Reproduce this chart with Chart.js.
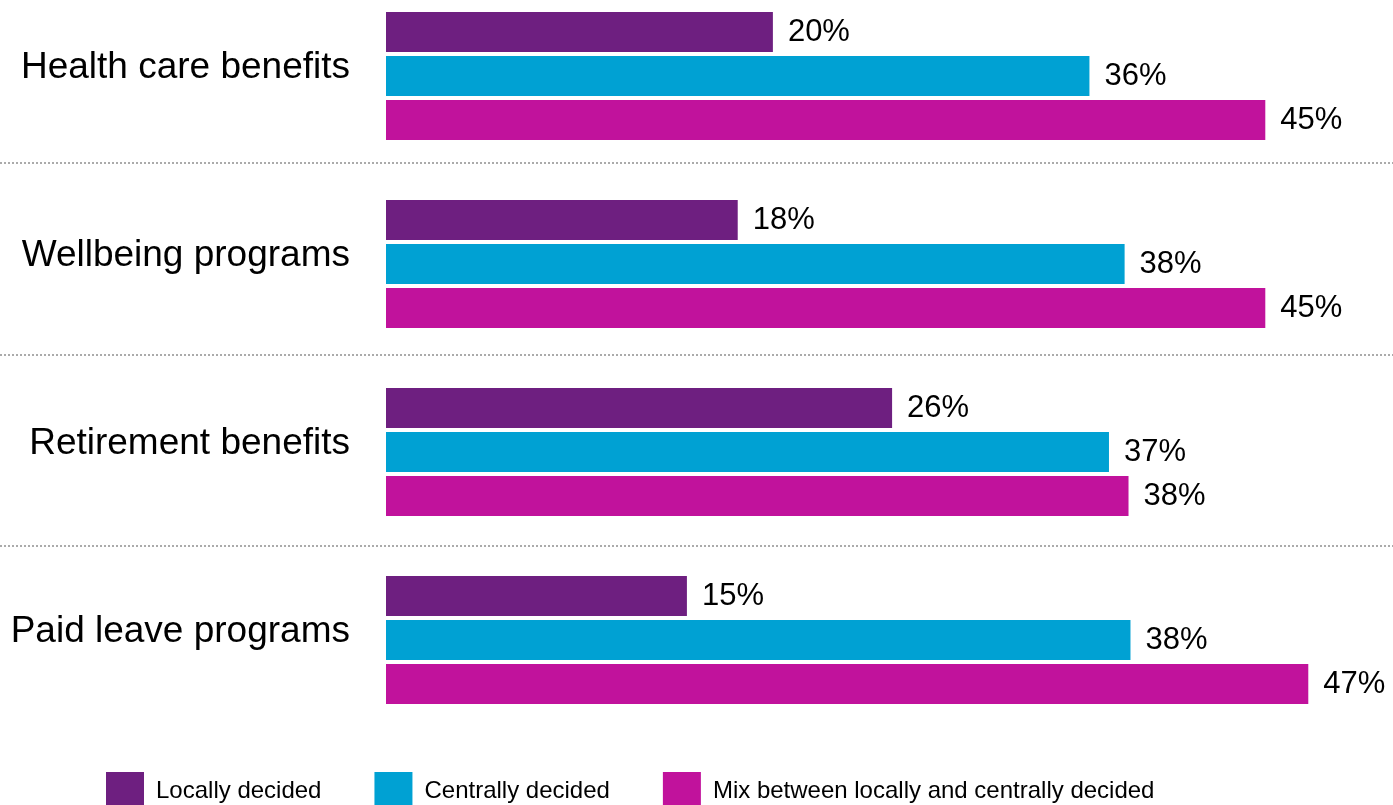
<!DOCTYPE html>
<html>
<head>
<meta charset="utf-8">
<script src="https://cdn.jsdelivr.net/npm/chart.js@4.4.1/dist/chart.umd.min.js"></script>
<style>
  html, body { margin: 0; padding: 0; background: #fff; overflow: hidden; }
  #wrap { position: relative; width: 1393px; height: 820px; }
</style>
</head>
<body>
<div id="wrap"><canvas id="grafico"></canvas></div>
<script>
const categorias = ["Health care benefits", "Wellbeing programs", "Retirement benefits", "Paid leave programs"];
const seriesNomes = ["Locally decided", "Centrally decided", "Mix between locally and centrally decided"];
const localmente = [19.8, 18.0, 25.9, 15.4];
const centralmente = [36.0, 37.8, 37.0, 38.1];
const misto = [45.0, 45.0, 38.0, 47.2];
const cores = ["#6E1F80", "#00A1D3", "#C1129C"];

const fonte = "'Liberation Sans', Arial, sans-serif";

// linhas pontilhadas entre as categorias
const separadores = {
  id: "separadores",
  afterDraw(chart) {
    const { ctx, scales: { y }, width } = chart;
    ctx.save();
    ctx.strokeStyle = "#ababab";
    ctx.lineWidth = 2;
    ctx.setLineDash([2, 2]);
    for (let i = 0; i < categorias.length - 1; i++) {
      const meio = Math.round((y.getPixelForTick(i) + y.getPixelForTick(i + 1)) / 2 - 7 + 3.5 * i);
      ctx.beginPath();
      ctx.moveTo(0, meio);
      ctx.lineTo(width, meio);
      ctx.stroke();
    }
    ctx.restore();
  }
};

// rótulos de porcentagem no fim das barras
const rotulos = {
  id: "rotulos",
  afterDatasetsDraw(chart) {
    const { ctx } = chart;
    ctx.save();
    ctx.font = "31px " + fonte;
    ctx.fillStyle = "#000";
    ctx.textAlign = "left";
    ctx.textBaseline = "middle";
    chart.data.datasets.forEach((ds, i) => {
      const meta = chart.getDatasetMeta(i);
      meta.data.forEach((barra, j) => {
        ctx.fillText(Math.round(ds.data[j]) + "%", barra.x + 15, barra.y);
      });
    });
    ctx.restore();
  }
};

// legenda começa um pouco mais à direita, como no original
const legendaDeslocada = {
  id: "legendaDeslocada",
  afterLayout(chart) {
    if (chart.legend) chart.legend.left = 53;
  }
};

const dados = [localmente, centralmente, misto];

new Chart(document.getElementById("grafico"), {
  type: "bar",
  data: {
    labels: categorias,
    datasets: seriesNomes.map((nome, i) => ({
      label: nome,
      data: dados[i],
      backgroundColor: cores[i],
      borderWidth: 0,
      categoryPercentage: 0.70213,
      barPercentage: 0.90909,
      clip: false
    }))
  },
  options: {
    indexAxis: "y",
    responsive: true,
    maintainAspectRatio: false,
    animation: false,
    layout: { padding: { top: 76, left: 0, right: 30, bottom: 0 } },
    scales: {
      x: {
        min: 0,
        max: 50,
        grid: { display: false },
        border: { display: false },
        ticks: { display: false },
        afterFit: s => { s.height = 79; }
      },
      y: {
        offset: false,
        grid: { display: false, drawTicks: false },
        border: { display: false },
        ticks: {
          color: "#000",
          font: { family: fonte, size: 37 },
          padding: 36,
          labelOffset: -8,
          autoSkip: false
        },
        afterFit: s => { s.width = 386; }
      }
    },
    plugins: {
      tooltip: { enabled: false },
      legend: {
        position: "bottom",
        align: "start",
        labels: {
          boxWidth: 38,
          boxHeight: 38,
          padding: 53,
          color: "#000",
          font: { family: fonte, size: 24 }
        }
      }
    }
  },
  plugins: [separadores, rotulos, legendaDeslocada]
});
</script>
</body>
</html>
